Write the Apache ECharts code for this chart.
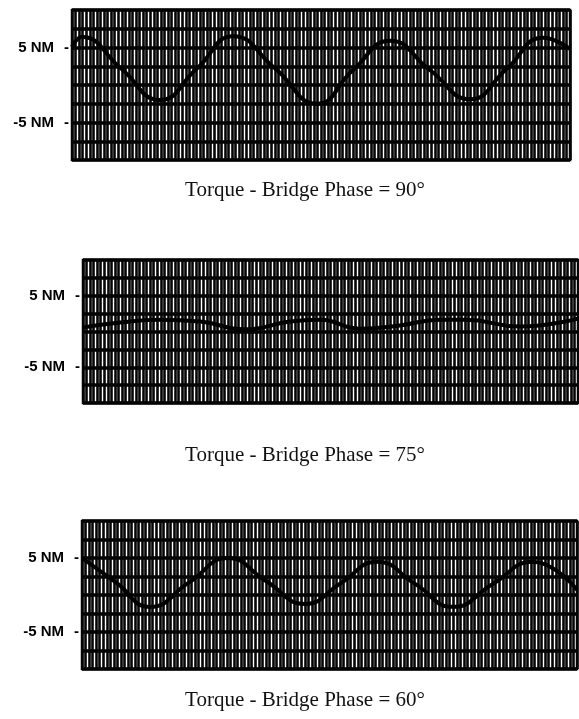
<!DOCTYPE html>
<html>
<head>
<meta charset="utf-8">
<script src="https://cdn.jsdelivr.net/npm/echarts@6/dist/echarts.min.js"></script>
<style>
html,body{margin:0;padding:0;background:#fff;}
#c{width:579px;height:719px;}
</style>
</head>
<body>
<div id="c"></div>
<script>
// Chart data (time in arbitrary recorder units 0..140, torque in N·m)
const captions = ['Torque - Bridge Phase = 90°', 'Torque - Bridge Phase = 75°', 'Torque - Bridge Phase = 60°'];
const yTickLabels = { '5': '5 NM', '-5': '-5 NM' };

const t90 = [0, 2.8, 13.8, 24.7, 35.1, 45.3, 57.1, 68.9, 79.0, 89.4, 100.6, 111.9, 122.3, 132.4, 140];
const torque90 = [5.1, 6.4, 2.2, -2.0, 2.2, 6.5, 2.2, -2.5, 2.0, 5.9, 2.0, -1.9, 2.2, 6.3, 4.8];

const t75 = [0, 10.5, 21.8, 33.1, 45.8, 58.5, 67.0, 78.3, 89.6, 101.0, 108.0, 123.6, 140];
const torque75 = [0.55, 1.25, 1.65, 1.4, 0.3, 1.4, 1.65, 0.4, 0.85, 1.65, 1.65, 0.7, 1.8];

const t60 = [0, 9.6, 19.2, 30.3, 41.3, 52.0, 63.1, 73.2, 83.4, 94.2, 104.9, 116.2, 127.5, 140];
const torque60 = [5.0, 1.7, -1.6, 1.7, 5.0, 1.9, -1.2, 1.6, 4.5, 1.5, -1.6, 1.5, 4.5, 0.7];

const panels = [
  { t: t90, v: torque90, grid: { left: 72, right: 9, top: 10, height: 150 }, capY: 190 },
  { t: t75, v: torque75, grid: { left: 83, right: 1, top: 260, height: 143 }, capY: 455 },
  { t: t60, v: torque60, grid: { left: 82, right: 2, top: 521, height: 148 }, capY: 700 }
];

const grids = [], xAxes = [], yAxes = [], series = [], graphics = [];
panels.forEach((p, i) => {
  grids.push(Object.assign({ show: true, backgroundColor: '#ffffff', borderColor: '#000', borderWidth: 2.5 }, p.grid));
  xAxes.push({
    type: 'value', gridIndex: i, min: 0, max: 140, interval: 1,
    axisLine: { show: false }, axisTick: { show: false }, axisLabel: { show: false },
    splitLine: { show: true, lineStyle: { color: '#050505', width: 2.6 } }
  });
  yAxes.push({
    type: 'value', gridIndex: i, min: -10, max: 10, interval: 2.5,
    axisLine: { show: false }, axisTick: { show: false },
    axisLabel: {
      margin: 3,
      formatter: v => yTickLabels[String(v)] ? '{l|' + yTickLabels[String(v)] + '}{d|-}' : '',
      rich: {
        l: { fontFamily: 'Liberation Sans, Arial, sans-serif', fontWeight: 'bold', fontSize: 15, color: '#000' },
        d: { fontFamily: 'Liberation Sans, Arial, sans-serif', fontWeight: 'bold', fontSize: 15, color: '#000', padding: [0, 0, 0, 10] }
      }
    },
    splitLine: { show: true, lineStyle: { color: '#000', width: 3.5 } }
  });
  series.push({
    type: 'line', xAxisIndex: i, yAxisIndex: i, smooth: 0.5, symbol: 'none',
    lineStyle: { color: '#000', width: 4 },
    data: p.t.map((x, k) => [x, p.v[k]])
  });
  graphics.push({
    type: 'text', x: 305, y: p.capY,
    style: { text: captions[i], fill: '#111', font: '21px "Liberation Serif", "Times New Roman", serif', textAlign: 'center', textVerticalAlign: 'middle' }
  });
});

const chart = echarts.init(document.getElementById('c'), null, { renderer: 'canvas' });
chart.setOption({
  animation: false,
  backgroundColor: '#ffffff',
  grid: grids, xAxis: xAxes, yAxis: yAxes, series: series,
  graphic: graphics
});
</script>
</body>
</html>
